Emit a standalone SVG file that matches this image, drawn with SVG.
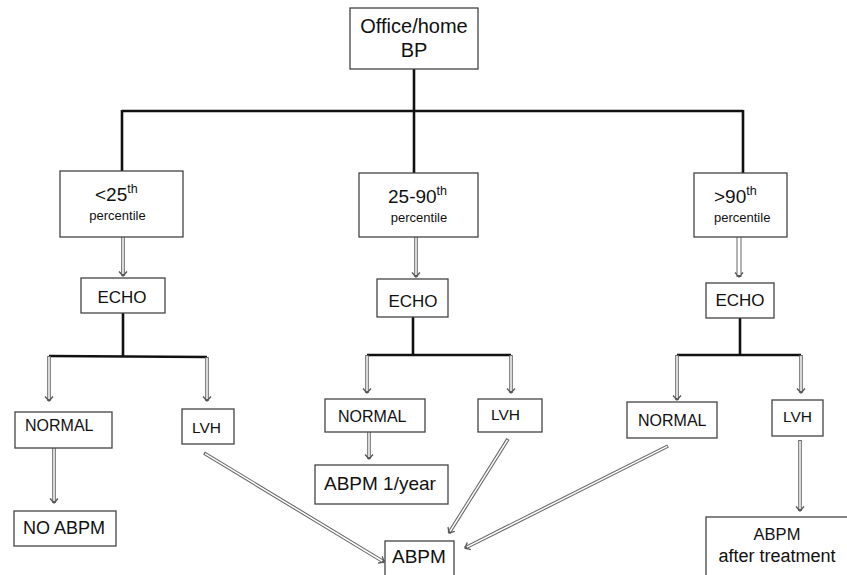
<svg xmlns="http://www.w3.org/2000/svg" width="847" height="575" viewBox="0 0 847 575">
<style>
.box{fill:#fff;stroke:#444;stroke-width:1.3}
.t{font-family:"Liberation Sans",Arial,sans-serif;fill:#111}
.thick{stroke:#111;stroke-width:2.6;fill:none}
.ao{stroke:#666;stroke-width:3.6;fill:none}
.ai{stroke:#fff;stroke-width:1.5;fill:none}
</style>
<defs>
<marker id="hd" markerUnits="userSpaceOnUse" markerWidth="14" markerHeight="14" viewBox="-8 -7 10 14" refX="0" refY="0" orient="auto">
<path d="M-4.5,-4 L0,0 L-4.5,4" fill="none" stroke="#555" stroke-width="1.3"/>
</marker>
</defs>
<rect width="847" height="575" fill="#fff"/>
<g id="connectors">
<path class="thick" d="M414,69V111M122,111H743M122,110V171M414,110V173M743,110V173"/>
<path class="thick" d="M123,313V356M49,356L207,357M413,317V355M367,355H511M740,318V355M677,355H801"/>
<g>
<path class="ao" marker-end="url(#hd)" d="M123,237V276"/><path class="ai" d="M123,237V274"/>
<path class="ao" marker-end="url(#hd)" d="M416,237V277"/><path class="ai" d="M416,237V275"/>
<path class="ao" style="stroke-width:5" marker-end="url(#hd)" d="M739,237V277"/><path class="ai" style="stroke-width:3" d="M739,237V275"/>
<path class="ao" marker-end="url(#hd)" d="M49,356V401"/><path class="ai" d="M49,357V399"/>
<path class="ao" marker-end="url(#hd)" d="M207,357V401"/><path class="ai" d="M207,358V399"/>
<path class="ao" marker-end="url(#hd)" d="M367,355V393"/><path class="ai" d="M367,356V391"/>
<path class="ao" marker-end="url(#hd)" d="M511,355V393"/><path class="ai" d="M511,356V391"/>
<path class="ao" marker-end="url(#hd)" d="M677,355V400"/><path class="ai" d="M677,356V398"/>
<path class="ao" marker-end="url(#hd)" d="M801,355V393"/><path class="ai" d="M801,356V391"/>
<path class="ao" marker-end="url(#hd)" d="M54,448V503"/><path class="ai" d="M54,448V501"/>
<path class="ao" marker-end="url(#hd)" d="M369,432V459"/><path class="ai" d="M369,432V457"/>
<path class="ao" marker-end="url(#hd)" d="M800,440V511"/><path class="ai" d="M800,441V509"/>
<path class="ao" marker-end="url(#hd)" d="M204,453L384,562"/><path class="ai" d="M205,453.6L382.3,561"/>
<path class="ao" marker-end="url(#hd)" d="M508,439L449,533"/><path class="ai" d="M507.5,439.8L450,531.3"/>
<path class="ao" marker-end="url(#hd)" d="M668,446L465,548"/><path class="ai" d="M667.3,446.4L466.8,547.1"/>
</g>
</g>
<g id="office"><rect class="box" x="350" y="8" width="128" height="61"/><text class="t" x="414" y="33" font-size="20" text-anchor="middle">Office/home</text><text class="t" x="414" y="57" font-size="20" text-anchor="middle">BP</text></g>
<g id="p25"><rect class="box" x="60" y="171" width="123" height="66"/><text class="t" x="95" y="201" font-size="19">&lt;25<tspan font-size="12.5" dy="-8">th</tspan></text><text class="t" x="117.5" y="220" font-size="13" text-anchor="middle">percentile</text></g>
<g id="p2590"><rect class="box" x="359" y="173" width="119" height="64"/><text class="t" x="388" y="203" font-size="19">25-90<tspan font-size="12.5" dy="-8">th</tspan></text><text class="t" x="419" y="222" font-size="13" text-anchor="middle">percentile</text></g>
<g id="p90"><rect class="box" x="694" y="173" width="93" height="64"/><text class="t" x="714" y="203" font-size="19">&gt;90<tspan font-size="12.5" dy="-8">th</tspan></text><text class="t" x="714" y="222" font-size="13">percentile</text></g>
<g id="echoL"><rect class="box" x="81" y="278" width="84" height="35"/><text class="t" x="122" y="303" font-size="17" text-anchor="middle">ECHO</text></g>
<g id="echoM"><rect class="box" x="377" y="279" width="71" height="38"/><text class="t" x="413" y="307" font-size="17" text-anchor="middle">ECHO</text></g>
<g id="echoR"><rect class="box" x="706" y="283" width="68" height="35"/><text class="t" x="740" y="306" font-size="17" text-anchor="middle">ECHO</text></g>
<g id="normalL"><rect class="box" x="15" y="412" width="97" height="36"/><text class="t" x="25" y="431" font-size="16">NORMAL</text></g>
<g id="lvhL"><rect class="box" x="182" y="409" width="52" height="35"/><text class="t" x="192" y="433" font-size="15.5">LVH</text></g>
<g id="noabpm"><rect class="box" x="14" y="511" width="102" height="35"/><text class="t" x="23" y="534" font-size="18">NO ABPM</text></g>
<g id="normalM"><rect class="box" x="325" y="399" width="100" height="33"/><text class="t" x="338" y="422" font-size="16">NORMAL</text></g>
<g id="lvhM"><rect class="box" x="478" y="399" width="64" height="33"/><text class="t" x="491" y="420" font-size="15.5">LVH</text></g>
<g id="abpm1"><rect class="box" x="315" y="465" width="133" height="39"/><text class="t" x="324" y="490" font-size="19">ABPM 1/year</text></g>
<g id="abpm"><rect class="box" x="385" y="541" width="69" height="40"/><text class="t" x="392" y="563" font-size="19">ABPM</text></g>
<g id="normalR"><rect class="box" x="627" y="402" width="90" height="36"/><text class="t" x="638" y="426" font-size="16">NORMAL</text></g>
<g id="lvhR"><rect class="box" x="772" y="400" width="51" height="36"/><text class="t" x="797.5" y="422" font-size="15.5" text-anchor="middle">LVH</text></g>
<g id="abpmAfter"><rect class="box" x="706" y="517" width="150" height="70"/><text class="t" x="777" y="540" font-size="16.5" text-anchor="middle">ABPM</text><text class="t" x="777" y="562" font-size="18" text-anchor="middle">after treatment</text></g>
</svg>
